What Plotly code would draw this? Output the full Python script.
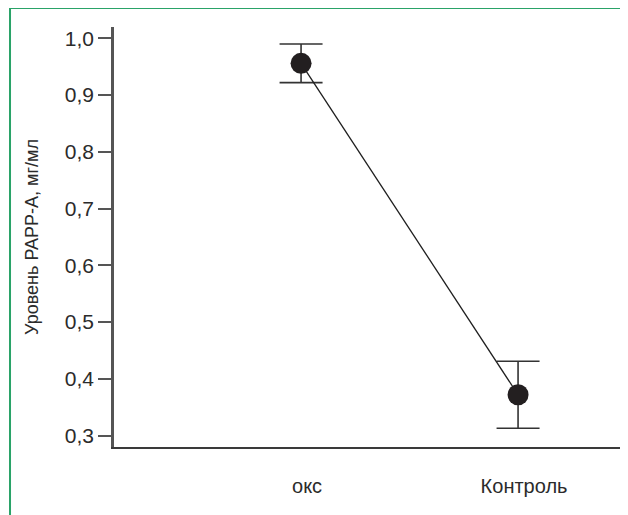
import plotly.graph_objects as go

categories = ["окс", "Контроль"]
means = [0.956, 0.372]
errors = [0.034, 0.059]
y_ticks = [0.3, 0.4, 0.5, 0.6, 0.7, 0.8, 0.9, 1.0]
y_title = "Уровень PAPP-A, мг/мл"

FONT = "Liberation Sans Narrow, Arial Narrow, Liberation Sans, Arial, sans-serif"
xpos = list(range(len(categories)))

fig = go.Figure()
fig.add_trace(go.Scatter(
    x=xpos, y=means, mode="lines+markers",
    line=dict(color="#1e1e1e", width=1.3),
    marker=dict(size=21, color="#231f20"),
    error_y=dict(type="data", array=errors, visible=True,
                 color="#333333", thickness=1.6, width=21.5),
    showlegend=False, cliponaxis=False,
))

fig.update_layout(
    width=620, height=507,
    margin=dict(l=106, r=1, t=19, b=68),
    paper_bgcolor="white", plot_bgcolor="white",
    separators=", ",
    font=dict(family=FONT, size=21, color="#2b2b2b"),
    xaxis=dict(range=[-0.862, 1.502], tickvals=xpos, ticktext=categories,
               showgrid=False, zeroline=False, showline=True,
               linecolor="#3a3a3a", linewidth=2, ticks="", ticklabelstandoff=20,
               ticklabelshift=6,
               tickfont=dict(family=FONT, size=20, color="#2b2b2b")),
    yaxis=dict(range=[0.280, 1.020], tickvals=y_ticks,
               tickformat=".1f", showgrid=False, zeroline=False,
               showline=True, linecolor="#555555", linewidth=2.5,
               ticks="outside", ticklen=13, tickwidth=2, tickcolor="#555555",
               tickfont=dict(family=FONT, size=21, color="#2b2b2b"),
               title=dict(text=y_title, font=dict(family=FONT, size=18, color="#2b2b2b"),
                          standoff=22)),
    shapes=[dict(type="rect", xref="paper", yref="paper",
                 x0=-0.2027, x1=1.2, y0=-0.3, y1=1.045,
                 line=dict(color="#2aa368", width=2), layer="below")],
)

fig.write_html("out.html")
